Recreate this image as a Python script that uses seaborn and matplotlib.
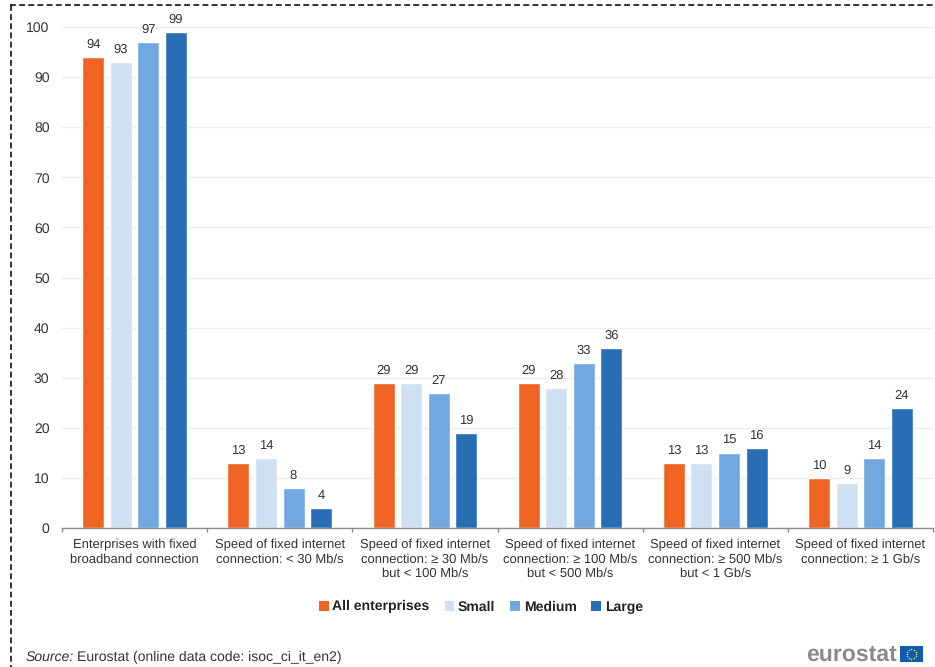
import numpy as np
import pandas as pd
import matplotlib
matplotlib.use("Agg")
import matplotlib.pyplot as plt
from matplotlib.lines import Line2D
from matplotlib.patches import Patch
from matplotlib.ticker import MultipleLocator
import seaborn as sns

categories = [
    "Enterprises with fixed\nbroadband connection",
    "Speed of fixed internet\nconnection: < 30 Mb/s",
    "Speed of fixed internet\nconnection: ≥ 30 Mb/s\nbut < 100 Mb/s",
    "Speed of fixed internet\nconnection: ≥ 100 Mb/s\nbut < 500 Mb/s",
    "Speed of fixed internet\nconnection: ≥ 500 Mb/s\nbut < 1 Gb/s",
    "Speed of fixed internet\nconnection: ≥ 1 Gb/s",
]
all_enterprises = [94, 13, 29, 29, 13, 10]
small = [93, 14, 29, 28, 13, 9]
medium = [97, 8, 27, 33, 15, 14]
large = [99, 4, 19, 36, 16, 24]
size_classes = ["All enterprises", "Small", "Medium", "Large"]
palette = ["#F06423", "#CFE0F3", "#71A8E0", "#286EB4"]

df = pd.DataFrame({
    "category": categories * 4,
    "size": np.repeat(size_classes, len(categories)),
    "value": all_enterprises + small + medium + large,
})

W, H = 935, 667
sns.set_theme(style="white")
plt.rcParams["font.family"] = ["Liberation Sans", "DejaVu Sans"]
plt.rcParams["text.hinting"] = "no_hinting"
plt.rcParams["text.hinting_factor"] = 1

fig = plt.figure(figsize=(W / 100, H / 100), dpi=100)
ax = fig.add_axes([62 / W, 1 - 528 / H, 871 / W, 501 / H])

sns.barplot(data=df, x="category", y="value", hue="size", hue_order=size_classes,
            palette=palette, width=0.758, gap=0.2, saturation=1, legend=False, ax=ax)

for container in ax.containers:
    ax.bar_label(container, padding=4.5, fontsize=9.6, color="#333333")

ax.set_xlim(-0.5, 5.5)
ax.set_ylim(0, 100)
ax.yaxis.set_major_locator(MultipleLocator(10))
ax.set_xlabel("")
ax.set_ylabel("")
ax.set_axisbelow(True)
ax.grid(axis="y", color="#EDEDED", linewidth=1)
ax.grid(axis="x", visible=False)
sns.despine(ax=ax, left=True)
ax.spines["bottom"].set_color("#8C8C8C")
ax.spines["bottom"].set_linewidth(1)
ax.patch.set_alpha(0)

ax.tick_params(axis="y", length=0, pad=9, labelsize=10, labelcolor="#333333")
ax.tick_params(axis="x", which="major", length=0, pad=8, labelsize=9.2, labelcolor="#333333")
for label in ax.get_xticklabels():
    label.set_linespacing(1.2)
ax.set_xticks(np.arange(-0.5, 6.5), minor=True)
ax.tick_params(axis="x", which="minor", bottom=True, length=3, width=1, color="#8C8C8C")

# Size-class legend beneath the category labels
handles = [Patch(facecolor=c, edgecolor="none", label=s) for c, s in zip(palette, size_classes)]
fig.legend(handles=handles, loc="center", bbox_to_anchor=(481 / W, 1 - 607 / H), ncol=4,
           frameon=False, handlelength=0.7, handleheight=0.7, handletextpad=0.25,
           columnspacing=1.05, prop={"weight": "bold", "size": 10.2}, labelcolor="#222222")

# Source line
fig.text(26 / W, 1 - 657 / H, "Source:", style="italic", fontsize=10.1, color="#333333", va="center")
fig.text(77 / W, 1 - 657 / H, "Eurostat (online data code: isoc_ci_it_en2)", fontsize=10.1,
         color="#333333", va="center")

# Publisher wordmark and flag
fig.text(897 / W, 1 - 655 / H, "eurostat", fontsize=16.6, fontweight="bold", color="#8A8A8A",
         ha="right", va="center", family=["Liberation Sans"])
flag = fig.add_axes([900 / W, 1 - 662 / H, 23 / W, 16 / H])
flag.set_facecolor("#0F5CAD")
flag.set_xlim(-1.44, 1.44)
flag.set_ylim(-1, 1)
flag.set_xticks([])
flag.set_yticks([])
for side in flag.spines.values():
    side.set_visible(False)
angles = np.deg2rad(np.arange(0, 360, 30))
flag.scatter(0.62 * np.cos(angles), 0.62 * np.sin(angles), s=1.5, color="#D8C83A", linewidths=0)

# Dashed frame: runs along the top and left, open on the other sides
frame_style = dict(color="#111111", linewidth=1.2, linestyle=(0, (3.5, 2)), transform=fig.transFigure)
fig.add_artist(Line2D([10 / W, 1], [1 - 4.5 / H, 1 - 4.5 / H], **frame_style))
fig.add_artist(Line2D([10.5 / W, 10.5 / W], [1 - 4.5 / H, 0], **frame_style))

fig.savefig("out.png", dpi=100)
